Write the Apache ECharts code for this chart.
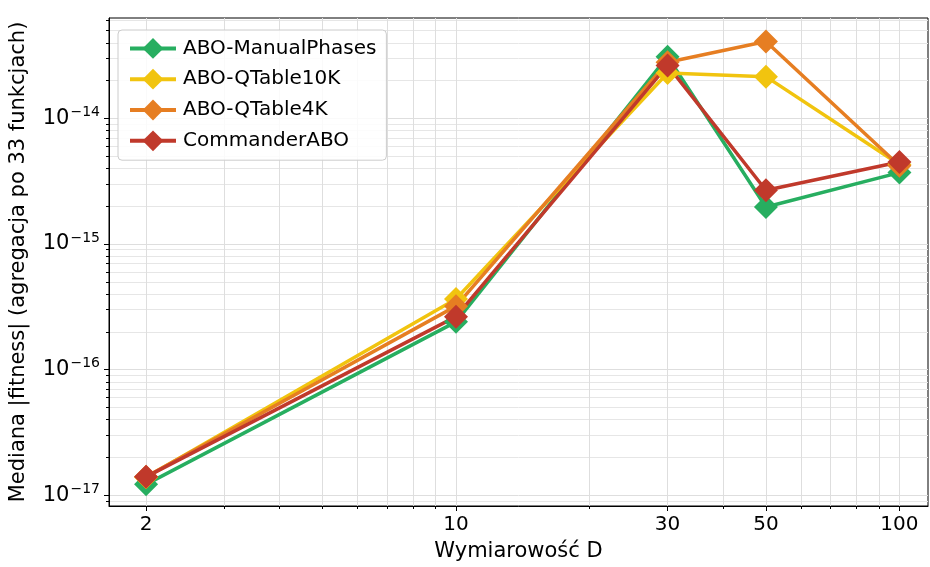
<!DOCTYPE html>
<html>
<head>
<meta charset="utf-8">
<script src="https://cdn.jsdelivr.net/npm/echarts@6/dist/echarts.min.js"></script>
<style>
  html, body { margin: 0; padding: 0; background: #fff; }
  #chart { width: 930px; height: 567px; }
</style>
</head>
<body>
<div id="chart"></div>
<script>
const dims = [2, 10, 30, 50, 100]

const manualPhases = [1.22e-17, 2.4e-16, 3.1e-14, 1.97e-15, 3.7e-15]
const qTable10K    = [1.39e-17, 3.65e-16, 2.3e-14, 2.15e-14, 4.3e-15]
const qTable4K     = [1.4e-17, 3.2e-16, 2.8e-14, 4.1e-14, 4.2e-15]
const commander    = [1.4e-17, 2.64e-16, 2.64e-14, 2.68e-15, 4.5e-15]

const xMajorTicks = [2, 10, 30, 50, 100]
const xMinorTicks = [3, 4, 5, 6, 7, 8, 9, 20, 30, 40, 50, 60, 70, 80, 90, 100]
const yMajorTicks = [1e-17, 1e-16, 1e-15, 1e-14]

const X_MIN = 1.65, X_MAX = 116
const Y_MIN = 8.2e-18, Y_MAX = 6.3e-14

// minor decades: 2..9 x 10^k
const yMinorTicks = []
for (let k = -18; k <= -14; k++) {
  for (let m = 2; m <= 9; m++) {
    const v = m * Math.pow(10, k)
    if (v >= Y_MIN && v <= Y_MAX) yMinorTicks.push(v)
  }
}

const FONT = '"DejaVu Sans", sans-serif'
const GRID_COLOR = '#dedede'

function sup(v) {
  const e = Math.round(Math.log10(v))
  return '{b|10}{s|\u2212' + Math.abs(e) + '}'
}

const seriesDefs = [
  { name: 'ABO-ManualPhases', color: '#27ae60', data: manualPhases },
  { name: 'ABO-QTable10K',    color: '#f1c40f', data: qTable10K },
  { name: 'ABO-QTable4K',     color: '#e67e22', data: qTable4K },
  { name: 'CommanderABO',     color: '#c0392b', data: commander },
]

const chart = echarts.init(document.getElementById('chart'), null, { renderer: 'canvas' })

chart.setOption({
  animation: false,
  backgroundColor: '#fff',
  textStyle: { fontFamily: FONT },
  grid: {
    left: 108, right: 2, top: 18, bottom: 59,
    show: true, borderColor: '#000', borderWidth: 1,
  },
  legend: {
    left: 118, top: 30,
    orient: 'vertical',
    padding: [8, 10, 9, 10],
    itemWidth: 46, itemHeight: 26, itemGap: 10,
    backgroundColor: 'rgba(255,255,255,0.85)',
    borderColor: '#cccccc', borderWidth: 1, borderRadius: 4,
    lineStyle: { width: 4 },
    textStyle: { fontFamily: FONT, fontSize: 20, color: '#000', padding: [0, 0, 0, 2] },
    data: seriesDefs.map(s => s.name),
  },
  xAxis: [
    {
      type: 'log', min: X_MIN, max: X_MAX,
      name: 'Wymiarowość D', nameLocation: 'middle', nameGap: 35,
      nameTextStyle: { fontFamily: FONT, fontSize: 21, color: '#000' },
      axisLine: { show: true, lineStyle: { color: '#000', width: 1 } },
      axisTick: { show: true, length: 5, lineStyle: { color: '#000' }, customValues: xMajorTicks },
      axisLabel: {
        customValues: xMajorTicks, margin: 9,
        fontFamily: FONT, fontSize: 20, color: '#000',
        formatter: v => String(Math.round(v)),
      },
      splitLine: { show: true, lineStyle: { color: GRID_COLOR, width: 1 } },
      minorTick: { show: false },
    },
    {
      type: 'log', min: X_MIN, max: X_MAX, position: 'bottom',
      axisLine: { show: false },
      axisTick: { show: true, length: 3, lineStyle: { color: '#000' }, customValues: xMinorTicks },
      axisLabel: { show: false, customValues: xMinorTicks },
      splitLine: { show: true, lineStyle: { color: GRID_COLOR, width: 1 } },
    },
  ],
  yAxis: [
    {
      type: 'log', min: Y_MIN, max: Y_MAX,
      name: 'Mediana |fitness| (agregacja po 33 funkcjach)',
      nameLocation: 'middle', nameGap: 80,
      nameTextStyle: { fontFamily: FONT, fontSize: 21, color: '#000' },
      axisLine: { show: true, lineStyle: { color: '#000', width: 1 } },
      axisTick: { show: true, length: 5, lineStyle: { color: '#000' }, customValues: yMajorTicks },
      axisLabel: {
        customValues: yMajorTicks, margin: 9,
        formatter: sup,
        rich: {
          b: { fontFamily: FONT, fontSize: 21, color: '#000' },
          s: { fontFamily: FONT, fontSize: 14, color: '#000', padding: [0, 0, 12, 1] },
        },
      },
      splitLine: { show: true, lineStyle: { color: GRID_COLOR, width: 1 } },
    },
    {
      type: 'log', min: Y_MIN, max: Y_MAX, position: 'left',
      axisLine: { show: false },
      axisTick: { show: true, length: 3, lineStyle: { color: '#000' }, customValues: yMinorTicks },
      axisLabel: { show: false, customValues: yMinorTicks },
      splitLine: { show: true, lineStyle: { color: '#e6e6e6', width: 1 } },
    },
  ],
  series: seriesDefs.map(s => ({
    name: s.name,
    type: 'line',
    xAxisIndex: 0, yAxisIndex: 0,
    data: dims.map((d, i) => [d, s.data[i]]),
    symbol: 'diamond',
    symbolSize: 24,
    lineStyle: { color: s.color, width: 3.5 },
    itemStyle: { color: s.color },
    emphasis: { disabled: true },
  })),
})
</script>
</body>
</html>
